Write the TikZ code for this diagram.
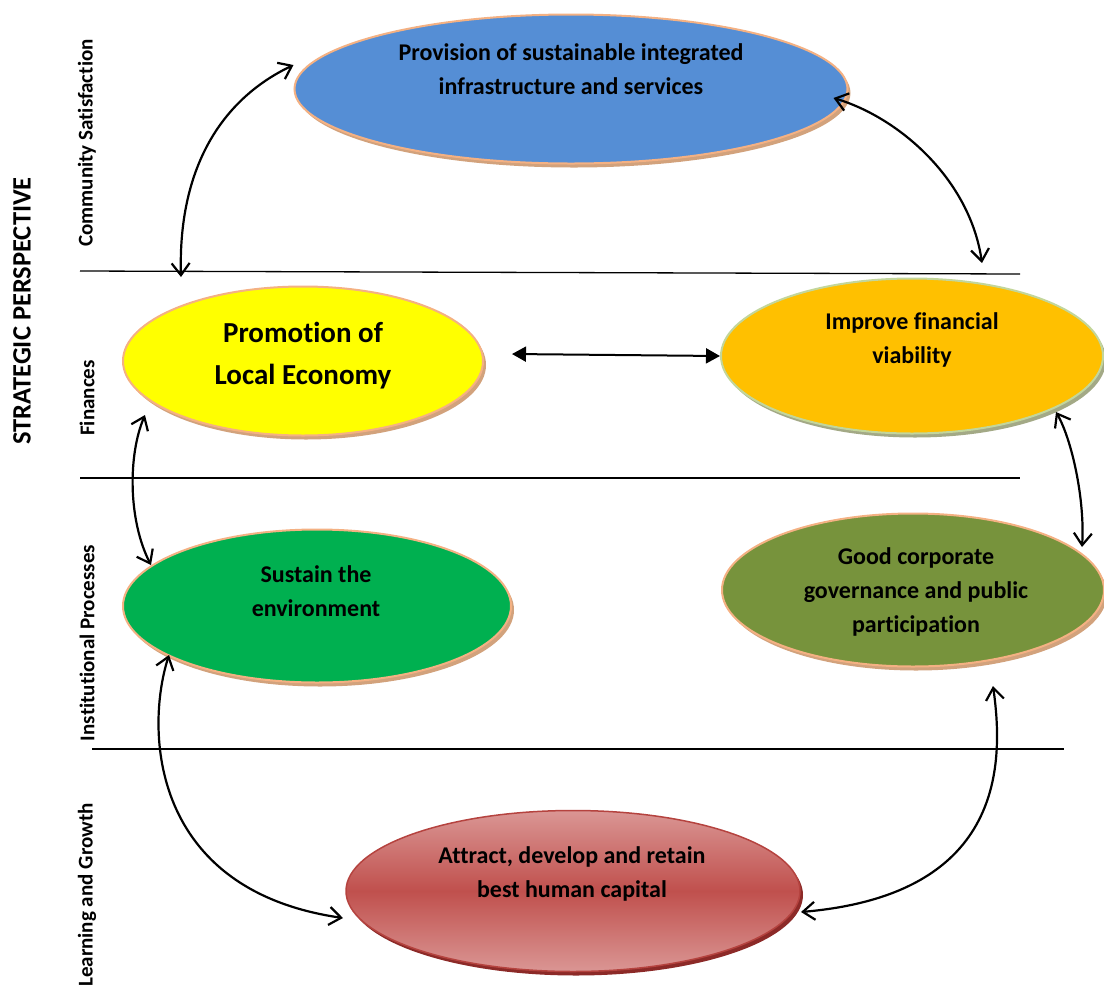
\documentclass[tikz,border=0pt]{standalone}
\usepackage{fontspec}
\setmainfont{Carlito}[Ligatures=NoCommon]
\usetikzlibrary{shapes.geometric,arrows.meta,shadows}
\definecolor{cBlue}{HTML}{558ED5}
\definecolor{cYellow}{HTML}{FFFF00}
\definecolor{cOrange}{HTML}{FFC000}
\definecolor{cGreen}{HTML}{00B050}
\definecolor{cOlive}{HTML}{77933C}
\definecolor{cRed}{HTML}{C0504D}
\definecolor{cRedL}{HTML}{DA9694}
\definecolor{cRedB}{HTML}{B5433F}
\definecolor{cRedSh}{HTML}{8C2A28}
\definecolor{cBorder}{HTML}{F4B183}
\definecolor{cBorderG}{HTML}{C3D69B}
\definecolor{cTan}{HTML}{D2A27C}
\definecolor{cGreenSh}{HTML}{A3A986}
\begin{document}
\begin{tikzpicture}[x=1pt,y=-1pt,
  oval/.style={ellipse, inner sep=0pt, line width=2pt, draw=cBorder},
  sh/.style={drop shadow={shadow xshift=3pt,shadow yshift=-4pt,fill=#1,opacity=1}},
  lbl/.style={font=\bfseries\fontsize{24}{34}\selectfont, align=center, text=black},
  biglbl/.style={font=\bfseries\fontsize{29}{42}\selectfont, align=center, text=black},
  side/.style={font=\bfseries\fontsize{21}{25}\selectfont, rotate=90},
  persp/.style={font=\bfseries\fontsize{26.5}{30}\selectfont, rotate=90},
  link/.style={line width=2.2pt, {Straight Barb[length=12pt,width=18pt]}-{Straight Barb[length=12pt,width=18pt]}},
  flat/.style={line width=2pt, {Triangle[length=14pt,width=15pt]}-{Triangle[length=14pt,width=15pt]}},
  rule/.style={line width=1.3pt}
]
\useasboundingbox (0,0) rectangle (1104,989);

% separating rules
\draw[rule] (80,271) -- (1020,274);
\draw[rule] (80,478) -- (1020,478);
\draw[rule] (92,749) -- (1064,749);

% ellipses
\node[oval, sh=cTan, fill=cBlue, minimum width=553pt, minimum height=149pt] (blue) at (571,89) {};
\node[oval, sh=cTan, fill=cYellow, minimum width=360pt, minimum height=149pt] (yellow) at (303,361) {};
\node[oval, sh=cGreenSh, draw=cBorderG, fill=cOrange, minimum width=382pt, minimum height=155pt] (orange) at (912,356) {};
\node[oval, sh=cTan, fill=cGreen, minimum width=388pt, minimum height=153pt] (green) at (317,606) {};
\node[oval, sh=cTan, fill=cOlive, minimum width=382pt, minimum height=153pt] (olive) at (913,590) {};
\node[oval, sh=cRedSh, draw=cRedB, line width=1.5pt, top color=cRedL, bottom color=cRedL, middle color=cRed, minimum width=454pt, minimum height=161pt] (red) at (573,891) {};

% texts
\node[lbl] (blueT) at (571,69) {Provision of sustainable integrated\\infrastructure and services};
\node[biglbl] (yellowT) at (303,356) {Promotion of\\Local Economy};
\node[lbl] (orangeT) at (912,340) {Improve financial\\viability};
\node[lbl] (greenT) at (316,591) {Sustain the\\environment};
\node[lbl] (oliveT) at (916,592) {Good corporate\\governance and public\\participation};
\node[lbl] (redT) at (572,874) {Attract, develop and retain\\best human capital};

% side labels
\node[persp] (perspT) at (22,311) {STRATEGIC PERSPECTIVE};
\node[side] (comm) at (87,143) {Community Satisfaction};
\node[side] (fin) at (87,398) {Finances};
\node[side] (inst) at (87,643) {Institutional Processes};
\node[side] (learn) at (87,895) {Learning and Growth};

% connectors
\coordinate (yb) at (181,277);
\coordinate (ob) at (982,263);
\draw[link] (yb) .. controls (178,170) and (220,100) .. (blue.west |- 0,65);
\draw[link] ([xshift=-15pt,yshift=-9pt]blue.east) .. controls (900,118) and (970,180) .. (ob);
\draw[flat] ([xshift=28pt,yshift=7pt]yellow.east) -- (orange.west);
\draw[link] ([xshift=-158pt,yshift=-54pt]yellow.center) .. controls (128,455) and (128,520) .. ([xshift=-166pt,yshift=41pt]green.center);
\draw[link] ([xshift=144pt,yshift=-56pt]orange.center) .. controls (1072,440) and (1085,500) .. ([xshift=169pt,yshift=43pt]olive.center);
\draw[link] ([xshift=-148pt,yshift=-49pt]green.center) .. controls (145,730) and (150,890) .. ([xshift=-230pt,yshift=-27pt]red.center);
\draw[link] ([xshift=80pt,yshift=-96pt]olive.center) .. controls (1005,770) and (1000,895) .. ([xshift=228pt,yshift=-21pt]red.center);
\end{tikzpicture}
\end{document}
